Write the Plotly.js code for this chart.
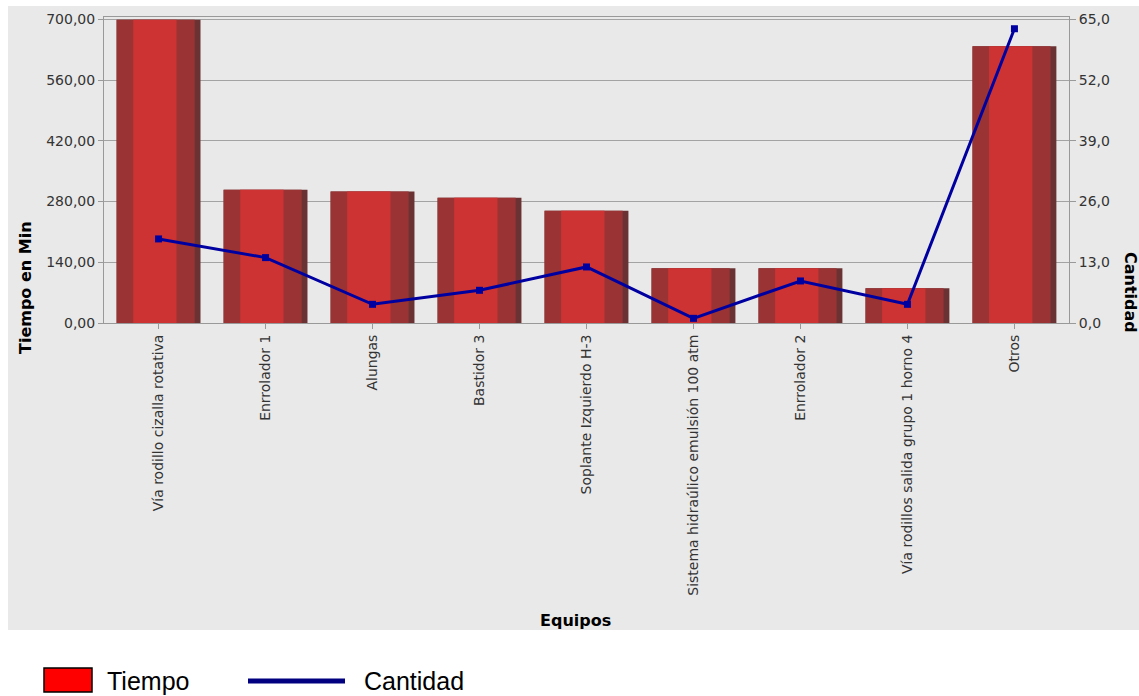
<!DOCTYPE html>
<html>
<head>
<meta charset="utf-8">
<script src="https://cdn.plot.ly/plotly-3.0.1.min.js"></script>
<style>
html,body{margin:0;padding:0;background:#ffffff;}
#chart{width:1139px;height:696px;}
</style>
</head>
<body>
<div id="chart"></div>
<script>
// ---- data ----
const equipos = [
  "Vía rodillo cizalla rotativa",
  "Enrrolador 1",
  "Alungas",
  "Bastidor 3",
  "Soplante Izquierdo H-3",
  "Sistema hidraúlico emulsión 100 atm",
  "Enrrolador 2",
  "Vía rodillos salida grupo 1 horno 4",
  "Otros"
];
const tiempo = [699, 307, 303, 289, 259, 126, 126, 80, 638];
const cantidad = [18, 14, 4, 7, 12, 1, 9, 4, 63];

// ---- layout helpers (pixel -> paper) ----
const W = 1139, H = 696;
const M = {l: 104, r: 70, t: 17, b: 373};
const pw = W - M.l - M.r, ph = H - M.t - M.b;
const px = x => (x - M.l) / pw;
const py = y => (H - M.b - y) / ph;

const FONT = "DejaVu Sans, Verdana, sans-serif";
const barBase = {type: 'bar', x: equipos, y: tiempo, showlegend: false, hoverinfo: 'x+y', marker: {line: {width: 0}}};

const traces = [
  Object.assign({}, barBase, {name: 'Tiempo', offset: -0.392, width: 0.784, marker: {color: '#6a3232', line: {width: 0}}}),
  Object.assign({}, barBase, {name: 'Tiempo', offset: -0.392, width: 0.730, marker: {color: '#993334', line: {width: 0}}}),
  Object.assign({}, barBase, {name: 'Tiempo', offset: -0.237, width: 0.405, marker: {color: '#cd3333', line: {width: 0}}}),
  {
    type: 'scatter', mode: 'lines+markers', name: 'Cantidad', x: equipos, y: cantidad, yaxis: 'y2',
    showlegend: false,
    line: {color: '#0000a0', width: 3},
    marker: {symbol: 'square', size: 7, color: '#0000a0'}
  }
];

const layout = {
  width: W, height: H,
  margin: M,
  paper_bgcolor: '#ffffff',
  plot_bgcolor: '#e9e9e9',
  separators: ',.',
  barmode: 'overlay',
  showlegend: false,
  font: {family: FONT, color: '#444444', size: 14},
  xaxis: {
    type: 'category',
    range: [-0.51, 8.51],
    tickangle: -90,
    ticks: 'outside', ticklen: 5, tickcolor: '#999999',
    showline: true, mirror: true, linecolor: '#999999', linewidth: 1,
    showgrid: false, zeroline: false,
    tickfont: {family: FONT, size: 14, color: '#333333'}
  },
  yaxis: {
    range: [0, 705.5],
    tick0: 0, dtick: 140, tickformat: '.2f',
    ticks: 'outside', ticklen: 5, tickcolor: '#999999',
    showline: true, mirror: true, linecolor: '#999999', linewidth: 1,
    showgrid: true, gridcolor: '#a3a3a3', gridwidth: 1, zeroline: false,
    tickfont: {family: FONT, size: 14, color: '#333333'}
  },
  yaxis2: {
    overlaying: 'y', side: 'right',
    range: [0, 705.5 / 700 * 65],
    tick0: 0, dtick: 13, tickformat: '.1f',
    ticks: 'outside', ticklen: 6, tickcolor: '#999999',
    showline: false, showgrid: false, zeroline: false,
    tickfont: {family: FONT, size: 14, color: '#333333'}
  },
  shapes: [
    // grey chart panel
    {type: 'rect', xref: 'paper', yref: 'paper', layer: 'below',
     x0: px(8), x1: px(1139), y0: py(630), y1: py(6),
     fillcolor: '#e9e9e9', line: {width: 0}},
    // legend swatches
    {type: 'rect', xref: 'paper', yref: 'paper',
     x0: px(44), x1: px(92), y0: py(692), y1: py(668),
     fillcolor: '#ff0000', line: {color: '#000000', width: 1.5}},
    {type: 'line', xref: 'paper', yref: 'paper',
     x0: px(248), x1: px(345), y0: py(681), y1: py(681),
     line: {color: '#000080', width: 5}}
  ],
  annotations: [
    {text: '<b>Tiempo en Min</b>', xref: 'paper', yref: 'paper', x: px(25), y: py(288),
     textangle: -90, showarrow: false, xanchor: 'center', yanchor: 'middle',
     font: {family: FONT, size: 16, color: '#000000'}},
    {text: '<b>Cantidad</b>', xref: 'paper', yref: 'paper', x: px(1131), y: py(292),
     textangle: 90, showarrow: false, xanchor: 'center', yanchor: 'middle',
     font: {family: FONT, size: 16, color: '#000000'}},
    {text: '<b>Equipos</b>', xref: 'paper', yref: 'paper', x: px(575), y: py(620),
     showarrow: false, xanchor: 'center', yanchor: 'middle',
     font: {family: FONT, size: 16, color: '#000000'}},
    {text: 'Tiempo', xref: 'paper', yref: 'paper', x: px(105), y: py(681),
     showarrow: false, xanchor: 'left', yanchor: 'middle',
     font: {family: 'Liberation Sans, Arial, sans-serif', size: 25, color: '#000000'}},
    {text: 'Cantidad', xref: 'paper', yref: 'paper', x: px(362), y: py(681),
     showarrow: false, xanchor: 'left', yanchor: 'middle',
     font: {family: 'Liberation Sans, Arial, sans-serif', size: 25, color: '#000000'}}
  ]
};

Plotly.newPlot('chart', traces, layout, {staticPlot: true, displayModeBar: false});
</script>
</body>
</html>
